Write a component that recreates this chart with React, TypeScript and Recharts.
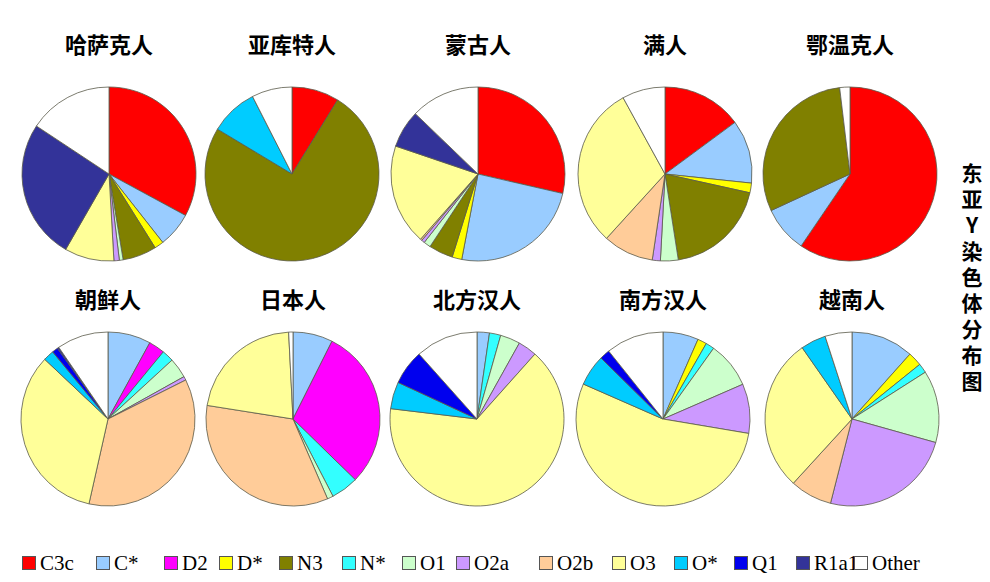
import React from "react";
import { PieChart, Pie, Cell } from "recharts";

// haplogroups in legend order (also the clockwise slice order, starting at 12 o'clock)
const haplogroups = ["C3c", "C*", "D2", "D*", "N3", "N*", "O1", "O2a", "O2b", "O3", "O*", "Q1", "R1a1", "Other"];
const colors = ["#FF0000", "#99CCFF", "#FF00FF", "#FFFF00", "#808000", "#33FFFF", "#CCFFCC", "#CC99FF", "#FFCC99", "#FFFF99", "#00CCFF", "#0000EE", "#333399", "#FFFFFF"];

// percentages per population, aligned with haplogroups
const kazakh = [32.9, 6.5, 0, 1.7, 6.3, 0, 0.7, 1.0, 0, 9.2, 0, 0, 26, 15.7];
const yakut = [8.8, 0, 0, 0, 74.9, 0, 0, 0, 0, 0, 8.9, 0, 0, 7.5];
const mongol = [28.6, 24.4, 0, 1.8, 4.5, 0, 1.3, 0.6, 0.3, 18.7, 0, 0, 7, 12.8];
const manchu = [14.9, 11.8, 0, 1.8, 19.1, 0, 3.3, 1.5, 9.4, 30.3, 0, 0, 0, 8];
const evenk = [59.5, 8.6, 0, 0, 30, 0, 0, 0, 0, 0, 0, 0, 0, 1.9];
const korean = [0, 8, 3, 0, 0, 2.2, 3.75, 0.7, 36, 33.6, 2, 1.1, 0.3, 9.6];
const japanese = [0, 7.4, 29.9, 0, 0, 5.1, 1.1, 0, 34, 21.7, 0, 0, 0, 0.8];
const northHan = [0, 2.3, 0, 0, 0, 2.1, 3.7, 3.5, 0, 65.3, 5, 6.5, 0, 11.6];
const southHan = [0, 6.6, 0, 1.7, 0, 1.6, 8.6, 9.2, 0, 54, 5.8, 1.9, 0, 10.75];
const vietnamese = [0, 11.6, 0, 2.6, 0, 1.75, 13.4, 24.6, 7.8, 28.5, 4.7, 0, 0, 5];

const populations = ["哈萨克人", "亚库特人", "蒙古人", "满人", "鄂温克人", "朝鲜人", "日本人", "北方汉人", "南方汉人", "越南人"];
const populationValues = [kazakh, yakut, mongol, manchu, evenk, korean, japanese, northHan, southHan, vietnamese];

const sideTitle = "东亚Y染色体分布图";

// layout
const W = 990;
const H = 582;
const centersX = [[109, 292, 478, 665, 850], [108, 293, 477, 663, 852]];
const centersY = [174, 419];
const titleY = [43, 298];
const R = 87;
const legendX = [22, 96, 164, 219, 279, 342, 402, 456, 539, 612, 674, 734, 796, 854];

const toData = (vals: number[]) =>
  haplogroups
    .map((name, i) => ({ name, value: vals[i], color: colors[i] }))
    .filter((d) => d.value > 0);

export default function App() {
  return (
    <div style={{ position: "relative", width: W, height: H, background: "#fff", overflow: "hidden" }}>
      <style>{`body{margin:0}`}</style>
      <div style={{ position: "absolute", left: 0, top: 0 }}>
        <PieChart width={W} height={H} margin={{ top: 0, right: 0, bottom: 0, left: 0 }}>
          {populationValues.map((vals, k) => {
            const row = Math.floor(k / 5);
            const col = k % 5;
            return (
              <Pie
                key={populations[k]}
                data={toData(vals)}
                dataKey="value"
                nameKey="name"
                cx={centersX[row][col]}
                cy={centersY[row]}
                outerRadius={R}
                startAngle={90}
                endAngle={-270}
                stroke="#5a5a4a"
                strokeWidth={0.8}
                isAnimationActive={false}
              >
                {toData(vals).map((d) => (
                  <Cell key={d.name} fill={d.color} />
                ))}
              </Pie>
            );
          })}
        </PieChart>
      </div>

      {populations.map((p, k) => {
        const row = Math.floor(k / 5);
        const col = k % 5;
        return (
          <div
            key={p}
            style={{
              position: "absolute",
              left: centersX[row][col] - 90,
              top: titleY[row] - 13,
              width: 180,
              textAlign: "center",
              fontFamily: "'Noto Sans CJK SC', sans-serif",
              fontWeight: 700,
              fontSize: 22,
              lineHeight: "26px",
              color: "#000",
            }}
          >
            {p}
          </div>
        );
      })}

      <div
        style={{
          position: "absolute",
          left: 958,
          top: 163,
          writingMode: "vertical-rl",
          textOrientation: "upright",
          fontFamily: "'Noto Sans CJK SC', sans-serif",
          fontWeight: 700,
          fontSize: 21,
          letterSpacing: 5,
          lineHeight: "28px",
          color: "#000",
        }}
      >
        {sideTitle}
      </div>

      {haplogroups.map((h, i) => (
        <div
          key={h}
          style={{
            position: "absolute",
            left: legendX[i],
            top: 550,
            height: 26,
            display: "flex",
            alignItems: "center",
            fontFamily: "'Liberation Serif', serif",
            fontSize: 21,
            color: "#000",
            whiteSpace: "nowrap",
          }}
        >
          <span
            style={{
              display: "inline-block",
              width: 12,
              height: 12,
              background: colors[i],
              border: "1px solid #555",
              marginRight: 4,
            }}
          />
          {h}
        </div>
      ))}
    </div>
  );
}
